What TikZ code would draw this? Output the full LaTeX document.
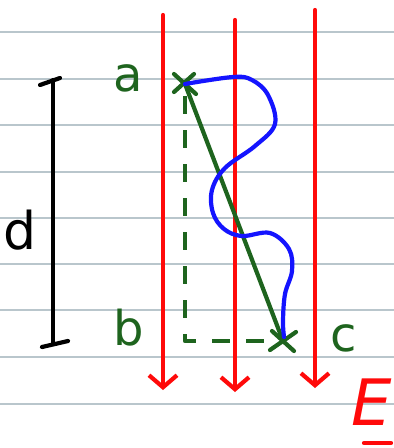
\documentclass[tikz,border=0pt]{standalone}
\usepackage{fontspec}
\setmainfont{DejaVu Sans}
\usepackage{xcolor}
\usepackage{tikz}
\usetikzlibrary{arrows.meta, positioning, calc}

\definecolor{penred}{RGB}{255,10,10}
\definecolor{pengreen}{RGB}{30,100,30}
\definecolor{penblue}{RGB}{20,20,255}
\definecolor{ruleline}{RGB}{185,198,204}

\tikzset{
    pen/.style={line width=4.2pt, line cap=round, line join=round},
    fieldline/.style={pen, penred, -{Straight Barb[length=12pt, width=28pt, line width=4.2pt]}},
    marklabel/.style={pengreen, font=\fontsize{48}{48}\selectfont, inner sep=0pt},
}

\begin{document}
\begin{tikzpicture}[x=1pt, y=-1pt]
\useasboundingbox (0,0) rectangle (394,448);
\fill[white] (0,0) rectangle (394,448);

% Ruled paper
\foreach \y in {32,79,125,172,218,264,310,357,404} {
    \draw[ruleline, line width=1.4pt] (0,\y) -- (394,\y);
}

% Field lines
\draw[fieldline] (163,15) -- (163,390);
\draw[fieldline] (235,20) -- (235,392);
\draw[fieldline] (315,10) -- (315,388);
\node[penred, font=\fontsize{64}{64}\selectfont\itshape, inner sep=0pt] (E) at (372,402) {E};
\draw[pen, penred] (364,443) -- (391,443);

% Distance d
\coordinate (dtop) at (53,80);
\coordinate (dbot) at (53,343);
\draw[pen, black] (dtop) -- (dbot);
\draw[pen, black] (40,85) -- (60,78);
\draw[pen, black] (42,347) -- (68,341);
\node[font=\fontsize{52}{52}\selectfont, inner sep=0pt] (d) at (20,230) {d};

% Points a, b, c
\coordinate (A) at (185,84);
\coordinate (B) at (185,341);
\coordinate (C) at (283,341);
\node[marklabel] (a) at (128,78) {a};
\node[marklabel] (b) at (129,328) {b};
\node[marklabel] (c) at (344,338) {c};
\draw[pen, pengreen] ($(A)+(-11,-10)$) -- ($(A)+(11,10)$);
\draw[pen, pengreen] ($(A)+(-11,8)$) -- ($(A)+(9,-10)$);
\draw[pen, pengreen] ($(C)+(-11,-10)$) -- ($(C)+(11,10)$);
\draw[pen, pengreen] ($(C)+(-13,9)$) -- ($(C)+(13,-9)$);

% Dashed path a -> b -> c
\draw[pen, pengreen, dash pattern=on 18pt off 16pt, line cap=butt] ($(A)+(0,12)$) -- (B) -- (C);

% Straight path a -> c
\draw[pen, pengreen] (A) -- (C);

% Wiggly path a -> c
\draw[pen, penblue] plot[smooth, tension=0.6] coordinates {
    (A) (233,77) (252,80) (268,95) (275,124) (255,146) (225,168) (212,190)
    (213,213) (224,229) (242,236) (270,233) (289,249) (292,271) (285,294)
    (283,321) (284,337)};

\end{tikzpicture}
\end{document}
